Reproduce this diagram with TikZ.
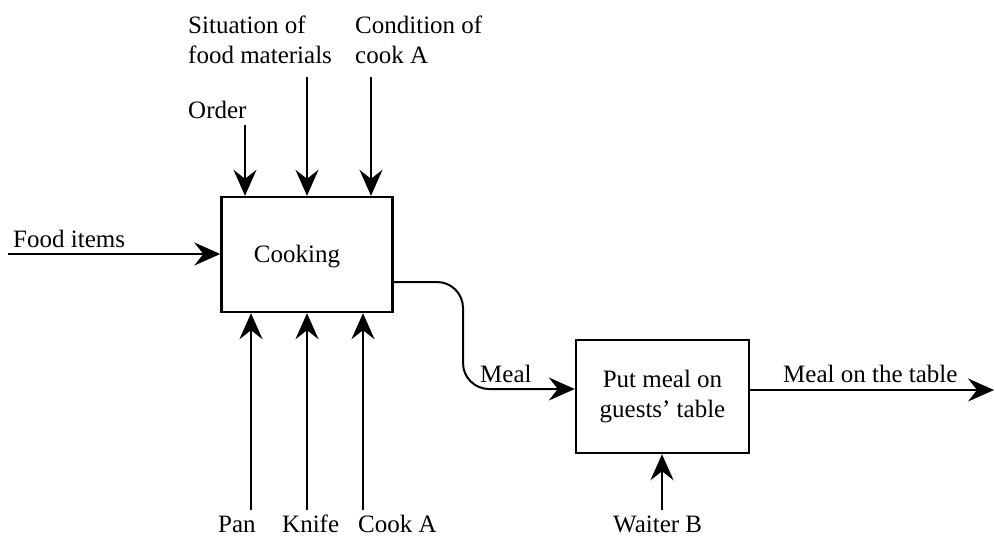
\documentclass[tikz,border=0pt]{standalone}
\usepackage{fontspec}
\setmainfont{Liberation Serif}
\usetikzlibrary{arrows.meta}
\begin{document}
\begin{tikzpicture}[x=1pt,y=-1pt,
  flow/.style={line width=2pt,-{Stealth[length=26pt,width=23pt,inset=9pt]}},
  procbox/.style={draw,line width=2.4pt,fill=white},
  lbl/.style={inner sep=0pt,font=\fontsize{25}{30}\selectfont},
]
\useasboundingbox (0,0) rectangle (995,536);

% activity boxes
\node[procbox,minimum width=171pt,minimum height=115pt] (cook) at (307,254.5) {};
\node[lbl,anchor=base] (cooklbl) at (297,262) {Cooking};
\node[procbox,minimum width=173pt,minimum height=113pt,align=center,
      font=\fontsize{25}{30}\selectfont,inner sep=0pt] (serve) at (662.5,396.5)
      {Put meal on\\guests' table};

% control labels (top)
\node[lbl,anchor=base west,align=left] (sit) at (188,33) {Situation of};
\node[lbl,anchor=base west] (sit2) at (188,63) {food materials};
\node[lbl,anchor=base west] (cond) at (355,33) {Condition of};
\node[lbl,anchor=base west] (cond2) at (355,63) {cook A};
\node[lbl,anchor=base west] (order) at (188,118) {Order};

% input label
\node[lbl,anchor=base west] (food) at (13,247) {Food items};

% mechanism labels (bottom)
\node[lbl,anchor=base west] (pan) at (218,532) {Pan};
\node[lbl,anchor=base west] (knife) at (282,532) {Knife};
\node[lbl,anchor=base west] (cooka) at (358,532) {Cook A};
\node[lbl,anchor=base west] (waiter) at (613,532) {Waiter B};

% output labels
\node[lbl,anchor=base west] (meal) at (480,382) {Meal};
\node[lbl,anchor=base west] (mealtab) at (783,382) {Meal on the table};

% connector end points
\coordinate (c1) at (245,125);
\coordinate (c2) at (307,77);
\coordinate (c3) at (371,77);
\coordinate (in1) at (8,254);
\coordinate (m1) at (251,510);
\coordinate (m2) at (307,510);
\coordinate (m3) at (363,510);
\coordinate (m4) at (662,510);
\coordinate (bendA) at (463,282);
\coordinate (bendB) at (463,389);
\coordinate (outend) at (994,390);

% controls
\draw[flow] (c1) -- (c1 |- cook.north);
\draw[flow] (c2) -- (c2 |- cook.north);
\draw[flow] (c3) -- (c3 |- cook.north);
% input
\draw[flow] (in1) -- (in1 -| cook.west);
% mechanisms
\draw[flow] (m1) -- (m1 |- cook.south);
\draw[flow] (m2) -- (m2 |- cook.south);
\draw[flow] (m3) -- (m3 |- cook.south);
\draw[flow] (m4) -- (m4 |- serve.south);
% output of cooking into serving
\draw[flow,rounded corners=26pt] (bendA -| cook.east) -- (bendA) -- (bendB) -- (bendB -| serve.west);
% final output
\draw[flow] (outend -| serve.east) -- (outend);
\end{tikzpicture}
\end{document}
